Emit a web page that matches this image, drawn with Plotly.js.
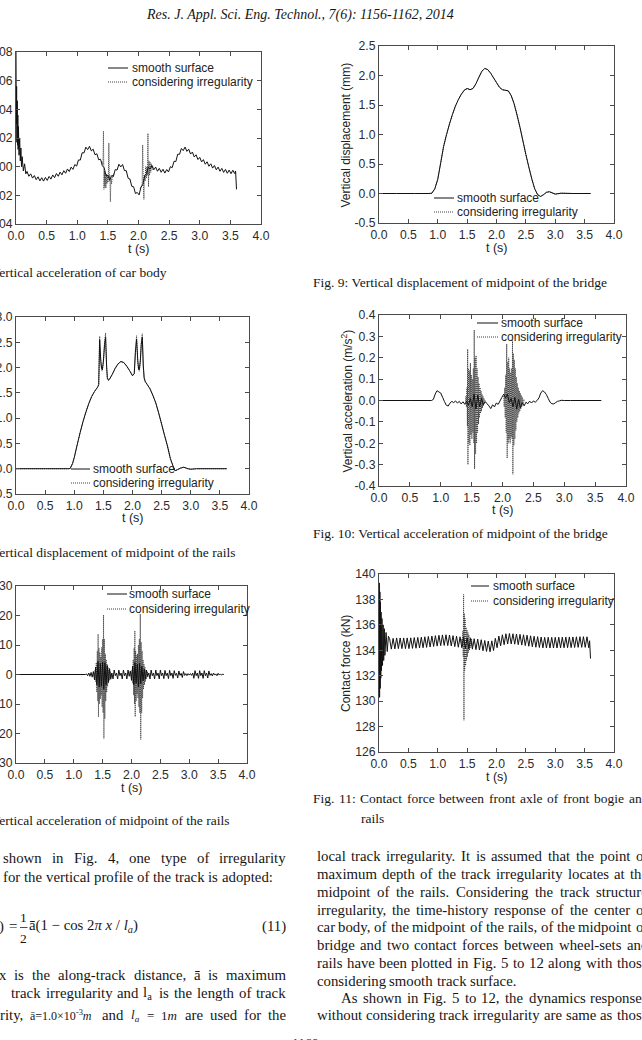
<!DOCTYPE html>
<html>
<head>
<meta charset="utf-8">
<script src="https://cdn.plot.ly/plotly-3.0.1.min.js"></script>
<style>
  html, body { margin: 0; padding: 0; background: #fff; }
  #page { width: 642px; height: 1040px; overflow: hidden; }
</style>
</head>
<body>
<div id="page"></div>
<script>
// ---------------- tick labels ----------------
const timeTickVals = [0, 0.5, 1, 1.5, 2, 2.5, 3, 3.5, 4];
const timeTickText = ['0.0', '0.5', '1.0', '1.5', '2.0', '2.5', '3.0', '3.5', '4.0'];
const carAccTickVals = [-0.04, -0.02, 0, 0.02, 0.04, 0.06, 0.08];
const carAccTickText = ['-0.04', '-0.02', '0.00', '0.02', '0.04', '0.06', '0.08'];
const bridgeDispTickVals = [-0.5, 0, 0.5, 1, 1.5, 2, 2.5];
const bridgeDispTickText = ['-0.5', '0.0', '0.5', '1.0', '1.5', '2.0', '2.5'];
const railDispTickVals = [-0.5, 0, 0.5, 1, 1.5, 2, 2.5, 3];
const railDispTickText = ['-0.5', '0.0', '0.5', '1.0', '1.5', '2.0', '2.5', '3.0'];
const bridgeAccTickVals = [-0.4, -0.3, -0.2, -0.1, 0, 0.1, 0.2, 0.3, 0.4];
const bridgeAccTickText = ['-0.4', '-0.3', '-0.2', '-0.1', '0.0', '0.1', '0.2', '0.3', '0.4'];
const railAccTickVals = [-30, -20, -10, 0, 10, 20, 30];
const railAccTickText = ['-30', '-20', '-10', '0', '10', '20', '30'];
const forceTickVals = [126, 128, 130, 132, 134, 136, 138, 140];
const forceTickText = ['126', '128', '130', '132', '134', '136', '138', '140'];

// ---------------- series ----------------
// common time base for car-body acceleration and contact force (s)
const tDense = [
  0, 0.005, 0.01, 0.015, 0.02, 0.025, 0.03, 0.035, 0.04, 0.05, 0.06, 0.07, 0.08, 0.09, 0.10, 0.12, 0.14, 0.16,
  0.18, 0.21, 0.24, 0.27, 0.30, 0.33, 0.36, 0.39, 0.42, 0.45,
  0.48, 0.51, 0.54, 0.57, 0.60, 0.63, 0.66, 0.69, 0.72, 0.75,
  0.78, 0.81, 0.84, 0.87, 0.90, 0.93, 0.96, 0.99, 1.02, 1.05,
  1.08, 1.11, 1.14, 1.17, 1.20, 1.23, 1.26, 1.29, 1.32, 1.35,
  1.38, 1.41, 1.44, 1.47, 1.50, 1.53, 1.56, 1.59, 1.62, 1.65,
  1.68, 1.71, 1.74, 1.77, 1.80, 1.83, 1.86, 1.89, 1.92, 1.95,
  1.98, 2.01, 2.04, 2.07, 2.10, 2.13, 2.16, 2.19, 2.22, 2.25,
  2.28, 2.31, 2.34, 2.37, 2.40, 2.43, 2.46, 2.49, 2.52, 2.55,
  2.58, 2.61, 2.64, 2.67, 2.70, 2.73, 2.76, 2.79, 2.82, 2.85,
  2.88, 2.91, 2.94, 2.97, 3.00, 3.03, 3.06, 3.09, 3.12, 3.15,
  3.18, 3.21, 3.24, 3.27, 3.30, 3.33, 3.36, 3.39, 3.42, 3.45,
  3.48, 3.51, 3.54, 3.57, 3.585, 3.60
];

// vertical acceleration of car body, smooth surface
const carAccSmooth = [
  0.080, 0.030, 0.056, 0.017, 0.046, 0.015, 0.036, 0.012, 0.028, 0.008, 0.020, 0.004, 0.013, 0.000, 0.007, -0.003, 0.002, -0.005,
  -0.0033, -0.0067, -0.0050, -0.0080, -0.0062, -0.0091, -0.0071, -0.0099, -0.0077, -0.0101,
  -0.0075, -0.0096, -0.0068, -0.0087, -0.0058, -0.0077, -0.0048, -0.0067, -0.0038, -0.0057,
  -0.0028, -0.0046, -0.0016, -0.0034, -0.0003, -0.0019, 0.0015, 0.0004, 0.0047, 0.0046,
  0.0097, 0.0096, 0.0136, 0.0119, 0.0142, 0.0110, 0.0122, 0.0083, 0.0090, 0.0048,
  0.0052, 0.0006, -0.0008, -0.0062, -0.0060, -0.0094, -0.0063, -0.0067, -0.0020, -0.0024,
  0.0017, -0.0002, 0.0015, -0.0027, -0.0028, -0.0080, -0.0086, -0.0137, -0.0140, -0.0187,
  -0.0180, -0.0197, -0.0143, -0.0127, -0.0063, -0.0052, -0.0003, -0.0017, 0.0007, -0.0022,
  -0.0003, -0.0032, -0.0012, -0.0039, -0.0018, -0.0045, -0.0020, -0.0037, 0.0000, -0.0007,
  0.0037, 0.0036, 0.0087, 0.0086, 0.0127, 0.0112, 0.0137, 0.0107, 0.0122, 0.0088,
  0.0102, 0.0068, 0.0083, 0.0050, 0.0065, 0.0033, 0.0049, 0.0017, 0.0034, 0.0003,
  0.0020, -0.0010, 0.0008, -0.0022, -0.0003, -0.0032, -0.0012, -0.0040, -0.0019, -0.0046,
  -0.0024, -0.0049, -0.0025, -0.0048, -0.0030, -0.0158
];

// vertical acceleration of car body, with track irregularity (where it departs from smooth)
const carAccIrrTime = [
  1.400, 1.420, 1.428, 1.436, 1.445, 1.452, 1.460, 1.468, 1.476, 1.484,
  1.492, 1.500, 1.508, 1.516, 1.524, 1.532, 1.541, 1.550, 1.560, 1.575,
  1.590, 1.600, null,
  2.030, 2.045, 2.060, 2.068, 2.078, 2.088, 2.098, 2.108, 2.118, 2.128,
  2.138, 2.146, 2.154, 2.163, 2.172, 2.180, 2.190, 2.200, 2.212, 2.225,
  2.240
];
const carAccIrr = [
  0.0035, 0.0015, 0.0248, -0.0158, -0.0030, -0.0140, -0.0060, -0.0150, -0.0050, -0.0120,
  -0.0060, -0.0110, -0.0070, 0.0165, -0.0100, -0.0060, -0.0244, -0.0080, -0.0120, -0.0060,
  -0.0070, -0.0045, null,
  -0.0150, -0.0140, -0.0120, 0.0152, -0.0100, -0.0228, -0.0060, -0.0100, 0.0000, -0.0080,
  0.0000, -0.0060, 0.0232, -0.0140, 0.0040, -0.0060, 0.0030, -0.0040, 0.0020, -0.0020,
  0.0005
];

// vertical displacement of midpoint of the bridge (mm); both cases coincide
const bridgeDispTime = [
  0, 0.3, 0.6, 0.85, 0.9, 0.95, 1.0, 1.05, 1.1, 1.15, 1.2, 1.25, 1.3, 1.35, 1.4, 1.45,
  1.5, 1.55, 1.6, 1.65, 1.7, 1.75, 1.8, 1.85, 1.9, 1.95, 2.0, 2.05, 2.1, 2.15, 2.2, 2.25,
  2.3, 2.35, 2.4, 2.45, 2.5, 2.55, 2.6, 2.65, 2.7, 2.75, 2.8, 2.85, 2.9, 2.95, 3.0, 3.1, 3.3, 3.6
];
const bridgeDisp = [
  0, 0, 0, 0, 0.005, 0.08, 0.24, 0.52, 0.80, 1.00, 1.18, 1.34, 1.48, 1.59, 1.68, 1.75,
  1.78, 1.76, 1.78, 1.86, 1.97, 2.07, 2.12, 2.10, 2.04, 1.96, 1.88, 1.80, 1.76, 1.75, 1.74, 1.66,
  1.52, 1.33, 1.12, 0.89, 0.66, 0.45, 0.25, 0.08, -0.02, -0.05, -0.02, 0.02, 0.03, 0.01, -0.01, 0.005, 0, 0
];

// vertical displacement of midpoint of the rails (mm)
const railDispTime = [
  0, 0.5, 0.9, 0.93, 0.97,
  1.0, 1.05, 1.1, 1.15, 1.2, 1.25, 1.3, 1.35, 1.4,
  1.42, 1.436, 1.455, 1.47, 1.482, 1.5, 1.52, 1.538, 1.555, 1.568, 1.585, 1.6,
  1.65, 1.7, 1.75, 1.8, 1.85, 1.9, 1.95, 2.0,
  2.03, 2.05, 2.07, 2.09, 2.105, 2.117, 2.135, 2.15, 2.168, 2.185, 2.2, 2.22,
  2.25, 2.3, 2.35, 2.4, 2.45, 2.5, 2.55, 2.6, 2.65, 2.7,
  2.73, 2.77, 2.82, 2.88, 2.95, 3.0, 3.1, 3.62
];
const railDispSmooth = [
  0, 0, 0, 0.005, 0.1,
  0.22, 0.47, 0.71, 0.93, 1.12, 1.29, 1.43, 1.53, 1.61,
  1.66, 2.55, 2.15, 1.98, 1.96, 2.12, 2.45, 2.60, 2.05, 1.80, 1.75, 1.76,
  1.86, 1.98, 2.07, 2.12, 2.10, 2.03, 1.94, 1.84,
  1.88, 2.30, 2.56, 2.15, 1.97, 1.96, 2.15, 2.45, 2.60, 2.05, 1.80, 1.72,
  1.67, 1.58, 1.45, 1.30, 1.10, 0.88, 0.66, 0.45, 0.20, 0.04,
  -0.04, -0.02, 0.01, 0.03, 0.0, -0.01, 0, 0
];
const railDispIrr = [
  0, 0, 0, 0.005, 0.1,
  0.22, 0.47, 0.71, 0.93, 1.12, 1.29, 1.43, 1.53, 1.61,
  1.66, 2.62, 2.10, 1.95, 1.93, 2.10, 2.50, 2.68, 2.00, 1.78, 1.75, 1.76,
  1.86, 1.98, 2.07, 2.12, 2.10, 2.03, 1.94, 1.84,
  1.88, 2.35, 2.63, 2.10, 1.94, 1.93, 2.10, 2.50, 2.67, 2.00, 1.78, 1.72,
  1.67, 1.58, 1.45, 1.30, 1.10, 0.88, 0.66, 0.45, 0.20, 0.04,
  -0.04, -0.02, 0.01, 0.03, 0.0, -0.01, 0, 0
];

// vertical acceleration of midpoint of the bridge (m/s2)
const bridgeAccTime = [
  0, 0.5, 0.85,
  0.88, 0.91, 0.94, 0.97, 1.00, 1.03, 1.06, 1.09, 1.12, 1.15,
  1.18, 1.21, 1.24, 1.27, 1.30, 1.33, 1.36, 1.39, 1.42, 1.45,
  1.48, 1.51, 1.54, 1.57, 1.60, 1.63, 1.66, 1.69, 1.72, 1.75,
  1.78, 1.81, 1.84, 1.87, 1.90, 1.93, 1.96, 1.99, 2.02, 2.05,
  2.08, 2.11, 2.14, 2.17, 2.20, 2.23, 2.26, 2.29, 2.32, 2.35,
  2.38, 2.41, 2.44, 2.47, 2.50, 2.53, 2.56, 2.59, 2.62, 2.65,
  2.68, 2.71, 2.74, 2.77, 2.80, 2.83, 2.86, 2.89, 2.92, 2.95,
  3.0, 3.1, 3.6
];
const bridgeAccSmooth = [
  0, 0, 0,
  0.005, 0.030, 0.046, 0.040, 0.035, 0.015, -0.005, -0.022, -0.026, -0.012,
  -0.004, -0.010, -0.002, -0.012, -0.004, -0.016, -0.006, -0.018, -0.004, -0.020,
  0.010, -0.030, 0.030, -0.040, 0.025, -0.030, 0.010, -0.020, -0.005, -0.015,
  -0.025, -0.038, -0.020, -0.030, -0.012, -0.018, -0.002, 0.015, 0.030, 0.012,
  0.030, -0.010, 0.010, -0.030, 0.015, -0.040, 0.005, -0.035, -0.010, -0.025,
  -0.008, -0.015, -0.003, -0.012, -0.002, -0.008, 0.000, 0.012, 0.035, 0.046,
  0.040, 0.028, 0.010, -0.008, -0.015, -0.016, -0.010, -0.004, -0.002, 0.001,
  0, 0, 0
];
const bridgeAccIrrTime = [
  1.400, 1.408, 1.416, 1.424, 1.432, 1.436, 1.440, 1.448, 1.456, 1.464,
  1.472, 1.480, 1.488, 1.496, 1.504, 1.512, 1.520, 1.528, 1.536, 1.542,
  1.548, 1.556, 1.564, 1.572, 1.580, 1.588, 1.596, 1.604, 1.612, 1.620,
  1.628, 1.636, 1.644, 1.652, 1.660, 1.668, 1.676, 1.684, 1.692, 1.700,
  1.710, 1.720, null,
  2.020, 2.028, 2.036, 2.044, 2.052, 2.060, 2.068, 2.076, 2.084, 2.092,
  2.100, 2.108, 2.116, 2.124, 2.132, 2.140, 2.148, 2.156, 2.162, 2.168,
  2.176, 2.184, 2.192, 2.200, 2.208, 2.216, 2.224, 2.232, 2.240, 2.248,
  2.256, 2.264, 2.272, 2.280, 2.288, 2.296, 2.304, 2.312, 2.320, 2.330,
  2.345, 2.360
];
const bridgeAccIrr = [
  -0.010, 0.020, -0.030, 0.060, -0.120, 0.240, -0.300, 0.150, -0.200, 0.140,
  -0.210, 0.175, -0.160, 0.120, -0.180, 0.100, -0.150, 0.150, -0.200, 0.330,
  -0.320, 0.200, -0.250, 0.210, -0.200, 0.150, -0.150, 0.110, -0.110, 0.080,
  -0.080, 0.060, -0.060, 0.045, -0.050, 0.030, -0.035, 0.020, -0.025, 0.010,
  -0.015, 0.000, null,
  0.020, -0.030, 0.060, -0.080, 0.120, -0.150, 0.265, -0.270, 0.180, -0.200,
  0.200, -0.180, 0.150, -0.200, 0.130, -0.170, 0.150, -0.180, 0.280, -0.345,
  0.220, -0.210, 0.190, -0.180, 0.150, -0.140, 0.110, -0.100, 0.080, -0.080,
  0.060, -0.060, 0.045, -0.050, 0.035, -0.040, 0.025, -0.030, 0.015, -0.020,
  0.005, -0.005
];

// vertical acceleration of midpoint of the rails (m/s2)
const railAccTime = [
  0,
  1.20, 1.22, 1.24, 1.26, 1.28, 1.30, 1.32, 1.34, 1.36, 1.38,
  1.40, 1.42, 1.44, 1.46, 1.48, 1.50, 1.52, 1.54, 1.56, 1.58,
  1.60, 1.62, 1.64, 1.66, 1.68, 1.70, 1.72, 1.74, 1.76, 1.78,
  1.80, 1.82, 1.84, 1.86, 1.88, 1.90, 1.92, 1.94, 1.96, 1.98,
  2.00, 2.02, 2.04, 2.06, 2.08, 2.10, 2.12, 2.14, 2.16, 2.18,
  2.20, 2.22, 2.24, 2.26, 2.28, 2.30, 2.32, 2.34, 2.36, 2.38,
  2.40, 2.42, 2.44, 2.46, 2.48, 2.50, 2.52, 2.54, 2.56, 2.58,
  2.60, 2.62, 2.64, 2.66, 2.68, 2.70, 2.72, 2.74, 2.76, 2.78,
  2.80, 2.82, 2.84, 2.86, 2.88, 2.90, 2.92, 2.94, 2.96, 2.98,
  3.00, 3.02, 3.04, 3.06, 3.08, 3.10, 3.12, 3.14, 3.16, 3.18,
  3.20, 3.22, 3.24, 3.26, 3.28, 3.30, 3.32, 3.34, 3.36, 3.38,
  3.40, 3.42, 3.44, 3.46, 3.48, 3.50, 3.52, 3.54, 3.56, 3.58,
  3.60
];
const railAccSmooth = [
  0,
  0, 0.2, -0.4, 0.5, -0.6, 0.7, -0.9, 1.0, -1.8, 2.5,
  -3.5, 4.5, -4.2, 3.8, -4.0, 4.2, -5.0, 4.0, -3.5, 3.0,
  -2.5, 2.0, -1.6, 0.5, -1.5, 1.5, -0.4, 0.5, -1.5, 1.5,
  -0.4, 0.5, -1.5, 1.5, -0.4, 0.5, -1.5, 1.5, -0.6, 1.2,
  -2.0, 2.8, -3.5, 4.0, -3.0, 3.5, -4.2, 3.8, -3.2, 2.8,
  -2.2, 1.8, -1.6, 1.5, -0.5, 0.5, -1.5, 1.5, -0.4, 0.5,
  -1.5, 1.5, -0.4, 0.5, -1.5, 1.5, -0.4, 0.5, -1.4, 1.4,
  -0.4, 0.5, -1.4, 1.4, -0.4, 0.5, -1.3, 1.3, -0.3, 0.4,
  -1.2, 1.2, -0.3, 0.4, -1.0, 1.0, -0.3, 0.3, -0.4, 0.3,
  -0.2, 0.3, -0.3, 0.5, -1.3, 1.3, -0.4, 0.5, -1.3, 1.3,
  -0.4, 0.5, -1.3, 1.3, -0.4, 0.5, -1.2, 1.2, -0.3, 0.3,
  -0.5, 0.5, -0.2, 0.2, -0.4, 0.4, -0.2, 0.2, -0.2, 0.1,
  0.0
];
const railAccIrrTime = [
  1.35, 1.36, 1.37, 1.38, 1.39, 1.40, 1.408, 1.416, 1.422, 1.428,
  1.436, 1.444, 1.452, 1.460, 1.468, 1.476, 1.484, 1.492, 1.500, 1.508,
  1.516, 1.522, 1.530, 1.538, 1.546, 1.554, 1.562, 1.570, 1.578, 1.586,
  1.594, 1.602, 1.610, 1.620, 1.630, 1.640, 1.650, null,
  1.99, 2.00, 2.01, 2.02, 2.03, 2.038, 2.046, 2.052, 2.058, 2.064,
  2.072, 2.080, 2.088, 2.096, 2.104, 2.112, 2.120, 2.128, 2.136, 2.144,
  2.152, 2.160, 2.168, 2.176, 2.184, 2.192, 2.200, 2.208, 2.216, 2.224,
  2.232, 2.240, 2.250, 2.260, 2.270, 2.280, 2.290
];
const railAccIrr = [
  0.5, -0.8, 1.5, -2.5, 4, -6, 8, -9, 13.7, -14.4,
  9, -10, 7.5, -8.3, 6, -7, 9.2, -11, 12, -13,
  20.2, -21.7, 12, -15, 7, -9, 5, -6, 3.5, -4,
  2.5, -3, 1.5, -2, 1, -1, 0.5, null,
  0.5, -0.8, 1.5, -3, 5, -7, 9, -10, 14.8, -14.3,
  8, -9, 6.4, -6.6, 7, -8, 10, -11, 12, -13,
  20.5, -22, 11, -13, 8, -8, 5, -5, 3.5, -3.5,
  2.5, -2.5, 1.5, -1.5, 1, -1, 0.5
];

// contact force between front axle of front bogie and rails (kN)
const forceSmooth = [
  134.5, 139.3, 130.3, 138.6, 131.0, 137.8, 131.8, 137.0, 132.4, 136.5, 132.8, 136.0, 133.2, 135.7, 133.6, 135.4, 133.9, 135.1,
  134.92, 134.09, 134.94, 134.11, 134.97, 134.13, 134.97, 134.13, 134.97, 134.13,
  134.97, 134.13, 134.98, 134.15, 135.00, 134.16, 135.01, 134.18, 135.03, 134.20,
  135.06, 134.23, 135.09, 134.26, 135.12, 134.30, 135.15, 134.33, 135.18, 134.36,
  135.21, 134.38, 135.22, 134.37, 135.20, 134.34, 135.15, 134.29, 135.11, 134.24,
  135.06, 134.20, 135.02, 134.16, 134.97, 134.12, 134.94, 134.09, 134.91, 134.05,
  134.88, 134.02, 134.83, 133.96, 134.77, 133.91, 134.73, 133.88, 134.74, 133.98,
  134.94, 134.20, 135.12, 134.34, 135.22, 134.44, 135.30, 134.50, 135.32, 134.50,
  135.30, 134.48, 135.28, 134.44, 135.25, 134.41, 135.22, 134.37, 135.19, 134.32,
  135.14, 134.28, 135.10, 134.24, 135.07, 134.22, 135.04, 134.19, 135.02, 134.18,
  135.02, 134.18, 135.02, 134.18, 135.02, 134.18, 135.03, 134.19, 135.03, 134.20,
  135.04, 134.20, 135.05, 134.21, 135.05, 134.22, 135.06, 134.23, 135.07, 134.23,
  135.07, 134.23, 135.06, 134.20, 134.75, 133.35
];
const forceIrrTime = [
  1.400, 1.410, 1.420, 1.428, 1.434, 1.440, 1.446, 1.452, 1.458, 1.466,
  1.474, 1.482, 1.490, 1.498, 1.506, 1.514, 1.522, 1.530, 1.540, 1.550,
  1.560, 1.575, 1.590, 1.600
];
const forceIrr = [
  134.6, 134.9, 134.3, 135.5, 133.5, 138.4, 128.5, 136.9, 132.4, 136.5,
  132.8, 135.8, 133.2, 135.6, 133.5, 135.4, 133.8, 135.2, 134.0, 135.0,
  134.2, 134.9, 134.3, 134.6
];

const legendLabels = ['smooth surface', 'considering irregularity'];

// ---------------- page geometry ----------------
const W = 642, H = 1040;
const px = x => x / W;
const py = y => 1 - y / H;

const SANS = 'Liberation Sans, Arial, sans-serif';
const SERIF = 'Liberation Serif';
const INK = '#161616';

const annotations = [];
const shapes = [];

function note(text, x, y, o) {
  o = o || {};
  annotations.push({
    xref: 'paper', yref: 'paper', x: px(x), y: py(y), text: text, showarrow: false,
    xanchor: o.anchor || 'left', yanchor: 'middle', textangle: o.angle || 0,
    borderpad: 0, borderwidth: 0,
    font: { family: o.family || SERIF, size: o.size || 14.8, color: o.color || INK }
  });
}

function rule(x0, x1, y, o) {
  o = o || {};
  shapes.push({
    type: 'line', xref: 'paper', yref: 'paper',
    x0: px(x0), x1: px(x1), y0: py(y), y1: py(y),
    line: { color: o.color || '#111', width: o.width || 1, dash: o.dash || 'solid' }
  });
}

// text measuring for justified lines
const meas = document.createElement('canvas').getContext('2d');
function textWidth(str, size) {
  meas.font = size + 'px "' + SERIF + '"';
  return meas.measureText(str.replace(/<[^>]+>/g, '')).width;
}
function setLine(words, x0, x1, y, size, justify) {
  const list = words.map(w => (typeof w === 'string' ? { t: w, s: size } : w));
  const widths = list.map(w => textWidth(w.t, w.s));
  const total = widths.reduce((a, b) => a + b, 0);
  const gap = (justify && list.length > 1) ? (x1 - x0 - total) / (list.length - 1) : textWidth(' ', size);
  let x = x0;
  list.forEach((w, i) => {
    note(w.t, x, y, { size: w.s });
    x += widths[i] + gap;
  });
}

// ---------------- panels ----------------
const panels = [
  { box: [16, 261, 52, 224],  yRange: [-0.04, 0.08], yVals: carAccTickVals,     yText: carAccTickText,
    legend: [108, 128, 132, 68, 82],   xTitle: [138.5, 249] },
  { box: [379, 614, 46, 223], yRange: [-0.5, 2.5],   yVals: bridgeDispTickVals, yText: bridgeDispTickText,
    legend: [434, 454, 457, 198, 212], xTitle: [497, 248], yTitle: ['Vertical displacement (mm)', 346] },
  { box: [16, 249, 317, 494], yRange: [-0.5, 3.0],   yVals: railDispTickVals,   yText: railDispTickText,
    legend: [71, 90, 93, 469, 483],    xTitle: [133, 518] },
  { box: [379, 626, 315, 486], yRange: [-0.4, 0.4],  yVals: bridgeAccTickVals,  yText: bridgeAccTickText,
    legend: [477, 498, 501, 323, 337], xTitle: [503, 510.5], yTitle: ['Vertical acceleration (m/s<sup>2</sup>)', 346] },
  { box: [16, 247, 586, 763], yRange: [-30, 30],     yVals: railAccTickVals,    yText: railAccTickText,
    legend: [107, 127, 129, 594, 609], xTitle: [131.5, 788] },
  { box: [379, 614, 574, 752], yRange: [126, 140],   yVals: forceTickVals,      yText: forceTickText,
    legend: [471, 489, 493, 586, 601], xTitle: [497, 776.5], yTitle: ['Contact force (kN)', 346] }
];

const seriesByPanel = [
  [[carAccIrrTime, carAccIrr], [tDense, carAccSmooth]],
  [[bridgeDispTime, bridgeDisp], [bridgeDispTime, bridgeDisp]],
  [[railDispTime, railDispIrr], [railDispTime, railDispSmooth]],
  [[bridgeAccIrrTime, bridgeAccIrr], [bridgeAccTime, bridgeAccSmooth]],
  [[railAccIrrTime, railAccIrr], [railAccTime, railAccSmooth]],
  [[forceIrrTime, forceIrr], [tDense, forceSmooth]]
];

const SMOOTH_LINE = { color: '#111111', width: 1, simplify: false };
const IRR_LINE = { color: '#3c3c3c', width: 1, dash: '1px,1px', simplify: false };

function axisBase() {
  return {
    showline: true, linecolor: '#4a4a4a', linewidth: 1, mirror: 'ticks',
    ticks: 'inside', ticklen: 4, tickwidth: 1, tickcolor: '#4a4a4a',
    showgrid: false, zeroline: false, fixedrange: true, automargin: false,
    tickmode: 'array',
    tickfont: { family: SANS, size: 12.2, color: '#2b2b2b' }
  };
}

const layout = {
  width: W, height: H,
  margin: { l: 0, r: 0, t: 0, b: 0, pad: 0 },
  paper_bgcolor: '#ffffff', plot_bgcolor: 'rgba(0,0,0,0)',
  showlegend: false,
  annotations: annotations, shapes: shapes
};
const traces = [];

panels.forEach((p, i) => {
  const k = i === 0 ? '' : String(i + 1);
  const [x0, x1, y0, y1] = p.box;
  layout['xaxis' + k] = Object.assign(axisBase(), {
    domain: [px(x0), px(x1)], anchor: 'y' + k, range: [0, 4],
    tickvals: timeTickVals, ticktext: timeTickText
  });
  layout['yaxis' + k] = Object.assign(axisBase(), {
    domain: [py(y1), py(y0)], anchor: 'x' + k, range: p.yRange,
    tickvals: p.yVals, ticktext: p.yText
  });

  const [irr, smooth] = seriesByPanel[i];
  traces.push({ type: 'scatter', mode: 'lines', x: irr[0], y: irr[1], xaxis: 'x' + k, yaxis: 'y' + k,
    line: IRR_LINE, connectgaps: false, hoverinfo: 'skip', name: legendLabels[1] });
  traces.push({ type: 'scatter', mode: 'lines', x: smooth[0], y: smooth[1], xaxis: 'x' + k, yaxis: 'y' + k,
    line: SMOOTH_LINE, hoverinfo: 'skip', name: legendLabels[0] });

  // in-plot key
  const [la, lb, lt, ly1, ly2] = p.legend;
  rule(la, lb, ly1, { color: '#111' });
  rule(la, lb, ly2, { color: '#3c3c3c', dash: '1px,1px' });
  note(legendLabels[0], lt, ly1, { family: SANS, size: 12, color: '#222' });
  note(legendLabels[1], lt, ly2, { family: SANS, size: 12, color: '#222' });

  // axis titles
  note('t (s)', p.xTitle[0], p.xTitle[1], { family: SANS, size: 12.5, color: '#222', anchor: 'center' });
  if (p.yTitle) {
    note(p.yTitle[0], p.yTitle[1], (y0 + y1) / 2, { family: SANS, size: 12, color: '#222', anchor: 'center', angle: -90 });
  }
});

// ---------------- running head and captions ----------------
note('<i>Res. J. Appl. Sci. Eng. Technol., 7(6): 1156-1162, 2014</i>', 299.5, 15, { size: 14, anchor: 'center' });

note('Vertical acceleration of car body', -9.3, 273, { size: 13.5 });
note('Fig. 9: Vertical displacement of midpoint of the bridge', 313, 283, { size: 13.5 });
note('Vertical displacement of midpoint of the rails', -9.3, 552, { size: 13.5 });
note('Fig. 10: Vertical acceleration of midpoint of the bridge', 313, 533, { size: 13.5 });
note('Vertical acceleration of midpoint of the rails', -9.3, 820, { size: 13.5 });
setLine('Fig. 11: Contact force between front axle of front bogie and'.split(' '), 313, 648, 798, 13.5, true);
note('rails', 361, 818, { size: 13.5 });

// ---------------- body text, left column ----------------
const BODY = 14.8;
setLine('shown in Fig. 4, one type of irregularity'.split(' '), 3, 286, 858, BODY, true);
setLine('for the vertical profile of the track is adopted:'.split(' '), 3, 286, 877, BODY, false);

// equation (11)
note(')', 4, 926, { anchor: 'right' });
note('=', 13, 926, { anchor: 'center' });
note('1', 23.5, 917, { anchor: 'center', size: 13.5 });
rule(20, 27.5, 927.5, { color: '#222', width: 0.8 });
note('2', 23.5, 938, { anchor: 'center', size: 13.5 });
note('ā(1 − cos 2<i>π x</i> / <i>l</i><sub><i>a</i></sub>)', 29, 926);
note('(11)', 286, 926, { anchor: 'right' });

setLine('x is the along-track distance, ā is maximum'.split(' '), -1, 286, 975, BODY, true);
setLine('track irregularity and l<sub>a</sub> is the length of track'.split(' '), 11, 286, 993, BODY, true);
setLine(['rity,', { t: 'ā=1.0×10<sup>-3</sup><i>m</i>', s: 12 }, 'and', { t: '<i>l</i><sub><i>a</i></sub>', s: 13 },
         { t: '=', s: 13 }, { t: '1<i>m</i>', s: 13 }, 'are', 'used', 'for', 'the'], 0, 286, 1015, BODY, true);

// ---------------- body text, right column ----------------
const rightLines = [
  ['local track irregularity. It is assumed that the point of', 856, true, 316.5],
  ['maximum depth of the track irregularity locates at the', 873.5, true, 316.5],
  ['midpoint of the rails. Considering the track structure', 891.5, true, 316.5],
  ['irregularity, the time-history response of the center of', 909.5, true, 316.5],
  ['car body, of the midpoint of the rails, of the midpoint of', 927, true, 316.5],
  ['bridge and two contact forces between wheel-sets and', 945, true, 316.5],
  ['rails have been plotted in Fig. 5 to 12 along with those', 962.5, true, 316.5],
  ['considering smooth track surface.', 980.5, false, 316.5],
  ['As shown in Fig. 5 to 12, the dynamics responses', 998, true, 341],
  ['without considering track irregularity are same as those', 1015, true, 316.5]
];
rightLines.forEach(([txt, y, just, x0]) => setLine(txt.split(' '), x0, 648, y, BODY, just));

note('1160', 305, 1042, { size: 13.5, anchor: 'center' });

Plotly.newPlot('page', traces, layout, { staticPlot: true, displayModeBar: false });
</script>
</body>
</html>
